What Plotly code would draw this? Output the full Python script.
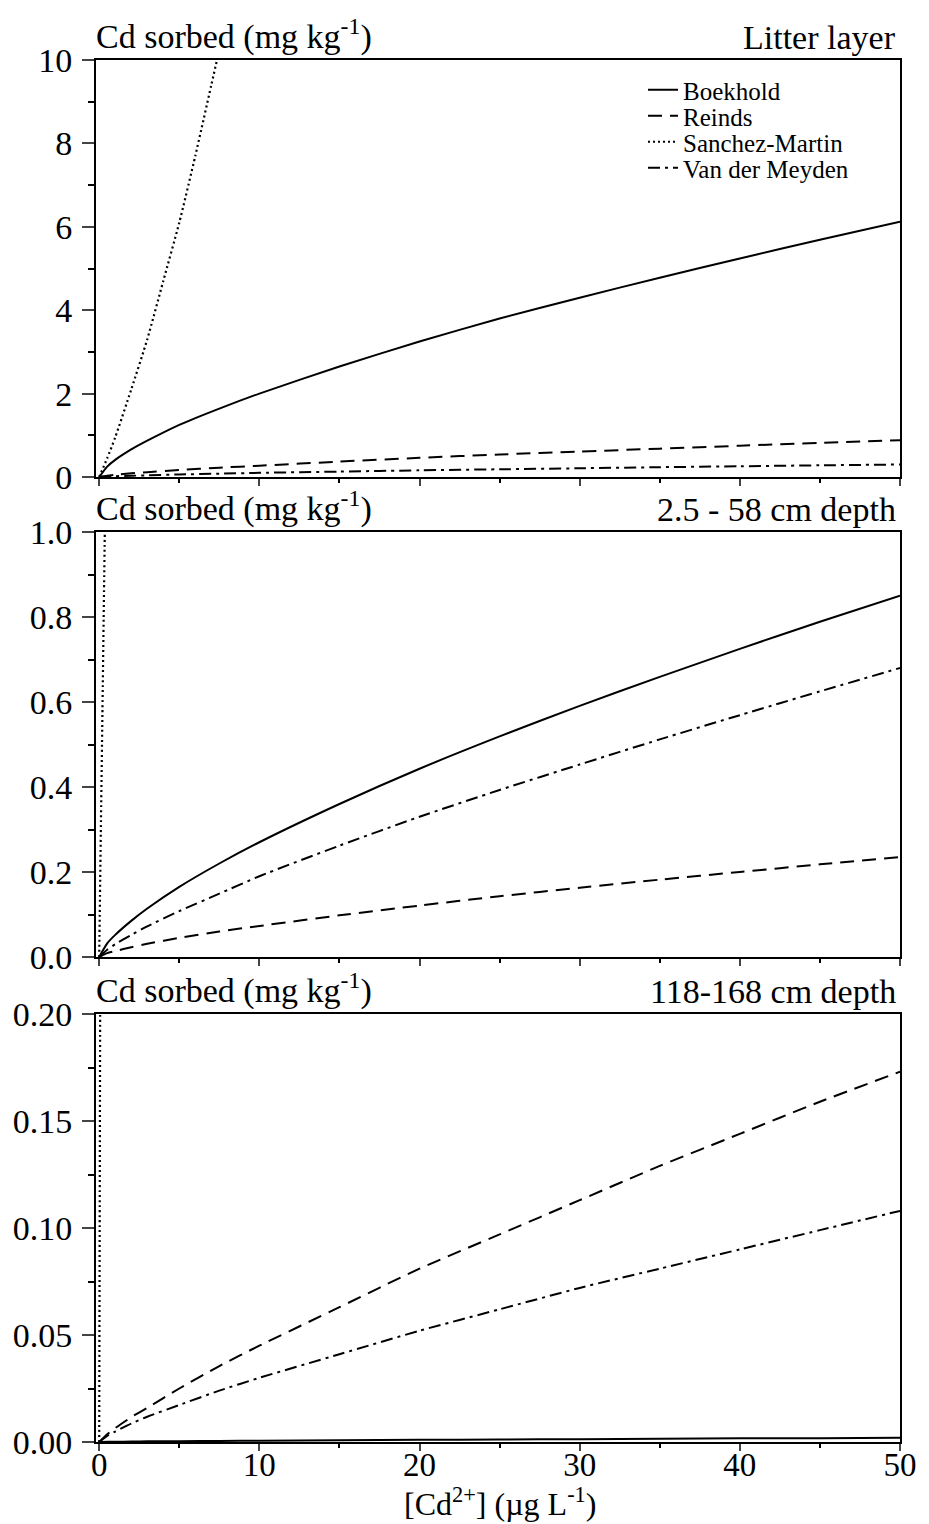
import plotly.graph_objects as go

# ---------------- data ----------------
X = [0, 0.5, 1, 2, 3, 5, 7.5, 10, 15, 20, 25, 30, 35, 40, 45, 50]

# Litter layer
litter_boekhold = [0, 0.25, 0.41, 0.66, 0.87, 1.25, 1.64, 2.0, 2.65, 3.25, 3.8, 4.3, 4.78, 5.24, 5.69, 6.12]
litter_reinds = [0, 0.032, 0.053, 0.087, 0.116, 0.167, 0.224, 0.27, 0.37, 0.46, 0.54, 0.61, 0.68, 0.75, 0.82, 0.88]
litter_meyden = [0, 0.01, 0.02, 0.03, 0.04, 0.06, 0.08, 0.1, 0.13, 0.16, 0.185, 0.21, 0.235, 0.258, 0.28, 0.3]
litter_sm_x = [0, 0.5, 1, 2, 3, 4, 5, 6, 7, 8]
litter_sm_y = [0, 0.45, 0.95, 2.1, 3.3, 4.7, 6.1, 7.7, 9.4, 11.1]

# 2.5 - 58 cm depth
mid_boekhold = [0, 0.032, 0.052, 0.085, 0.114, 0.165, 0.22, 0.27, 0.36, 0.443, 0.519, 0.591, 0.659, 0.725, 0.789, 0.85]
mid_reinds = [0, 0.009, 0.014, 0.023, 0.031, 0.045, 0.06, 0.073, 0.098, 0.121, 0.143, 0.163, 0.182, 0.2, 0.218, 0.235]
mid_meyden = [0, 0.017, 0.03, 0.052, 0.072, 0.108, 0.149, 0.19, 0.262, 0.33, 0.393, 0.453, 0.512, 0.569, 0.625, 0.68]
mid_sm_x = [0, 0.1, 0.2, 0.3, 0.35, 0.4]
mid_sm_y = [0, 0.29, 0.57, 0.86, 1.0, 1.14]

# 118-168 cm depth
deep_boekhold = [0, 0.0001, 0.0001, 0.0002, 0.0003, 0.0004, 0.0005, 0.0006, 0.0008, 0.001, 0.0012, 0.0013, 0.0015, 0.0017, 0.0018, 0.002]
deep_reinds = [0, 0.0036, 0.0065, 0.0116, 0.016, 0.025, 0.0355, 0.045, 0.063, 0.081, 0.097, 0.113, 0.129, 0.144, 0.159, 0.173]
deep_meyden = [0, 0.0028, 0.0049, 0.0086, 0.0118, 0.0173, 0.024, 0.030, 0.041, 0.052, 0.062, 0.072, 0.081, 0.090, 0.099, 0.108]
deep_sm_x = [0, 0.03, 0.06, 0.09]
deep_sm_y = [0, 0.1, 0.2, 0.3]

names = ["Boekhold", "Reinds", "Sanchez-Martin", "Van der Meyden"]
panel_titles = ["Litter layer", "2.5 - 58 cm depth", "118-168 cm depth"]
y_ranges = [[0, 10], [0, 1.0], [0, 0.20]]
y_dtick = [2, 0.2, 0.05]
y_minor = [1, 0.1, 0.025]
y_fmt = ["d", ".1f", ".2f"]
x_ticks = [0, 10, 20, 30, 40, 50]

# ---------------- figure ----------------
W, H = 929, 1524
FONT = "Liberation Serif, Times New Roman, serif"
styles = {
    "Boekhold": dict(color="black", width=2, dash="solid", shape="spline", smoothing=0.6),
    "Reinds": dict(color="black", width=2, dash="14px,8px", shape="spline", smoothing=0.6),
    "Sanchez-Martin": dict(color="black", width=2.2, dash="2px,3px", shape="spline", smoothing=0.6),
    "Van der Meyden": dict(color="black", width=2, dash="12px,5px,3px,5px", shape="spline", smoothing=0.6),
}
legend_ids = ["legend", "legend2", "legend3", "legend4"]
legend_centers = [90, 116, 142, 168]

panels = [
    (X, litter_boekhold, litter_reinds, litter_meyden, litter_sm_x, litter_sm_y),
    (X, mid_boekhold, mid_reinds, mid_meyden, mid_sm_x, mid_sm_y),
    (X, deep_boekhold, deep_reinds, deep_meyden, deep_sm_x, deep_sm_y),
]

px_left, px_right = 96, 900
py_panels = [(60, 477), (532, 957), (1014, 1442)]

fig = go.Figure()
for i, (xs, b, r, m, smx, smy) in enumerate(panels):
    k = "" if i == 0 else str(i + 1)
    xa, ya = "x" + k, "y" + k
    show = i == 0
    series = [(xs, b), (xs, r), (smx, smy), (xs, m)]
    for j, (sx, sy) in enumerate(series):
        fig.add_trace(go.Scatter(x=sx, y=sy, mode="lines", name=names[j], line=styles[names[j]],
                                 xaxis=xa, yaxis=ya, showlegend=show, legend=legend_ids[j]))

layout = dict(
    width=W, height=H,
    margin=dict(l=0, r=0, t=0, b=0, autoexpand=False),
    paper_bgcolor="white", plot_bgcolor="white",
    font=dict(family=FONT, size=33, color="black"),
    annotations=[],
)
for j, lid in enumerate(legend_ids):
    layout[lid] = dict(x=643 / W, y=1 - legend_centers[j] / H, xanchor="left", yanchor="middle",
                       font=dict(size=25, family=FONT), bgcolor="rgba(0,0,0,0)",
                       borderwidth=0)

xdom = [px_left / W, px_right / W]
for i, (top, bot) in enumerate(py_panels):
    k = "" if i == 0 else str(i + 1)
    ydom = [1 - bot / H, 1 - top / H]
    last = i == 2
    layout["xaxis" + k] = dict(
        domain=xdom, range=[-0.2, 50], anchor="y" + k, automargin=False,
        tickmode="array", tickvals=x_ticks,
        showticklabels=last, ticks="outside", ticklen=7, tickwidth=2,
        ticklabelstandoff=-15,
        minor=dict(dtick=5, tick0=0, ticks="outside", ticklen=4, tickwidth=1.5, tickcolor="black"),
        showline=True, linewidth=2, linecolor="black", mirror=True,
        showgrid=False, zeroline=False,
        tickfont=dict(size=33, family=FONT),
    )
    layout["yaxis" + k] = dict(
        domain=ydom, range=y_ranges[i], anchor="x" + k, automargin=False,
        dtick=y_dtick[i], tick0=0, tickformat=y_fmt[i],
        ticks="outside", ticklen=12, tickwidth=2, ticklabelstandoff=3,
        minor=dict(dtick=y_minor[i], tick0=0, ticks="outside", ticklen=6, tickwidth=1.5, tickcolor="black"),
        showline=True, linewidth=2, linecolor="black", mirror=True,
        showgrid=False, zeroline=False,
        tickfont=dict(size=34, family=FONT),
    )
    layout["annotations"].append(dict(
        text="Cd sorbed (mg kg<sup>-1</sup>)", xref="paper", yref="paper",
        x=px_left / W, y=1 - top / H, xanchor="left", yanchor="bottom",
        showarrow=False, font=dict(size=34, family=FONT), xshift=-2, yshift=2))
    layout["annotations"].append(dict(
        text=panel_titles[i], xref="paper", yref="paper",
        x=(px_right - 2) / W, y=1 - top / H, xanchor="right", yanchor="bottom",
        showarrow=False, font=dict(size=34, family=FONT), yshift=2))

layout["annotations"].append(dict(
    text="[Cd<sup>2+</sup>] (µg L<sup>-1</sup>)", xref="paper", yref="paper",
    x=500 / W, y=1 - 1524 / H, xanchor="center", yanchor="bottom",
    showarrow=False, font=dict(size=32, family=FONT)))

fig.update_layout(**layout)
fig.write_html("out.html")
